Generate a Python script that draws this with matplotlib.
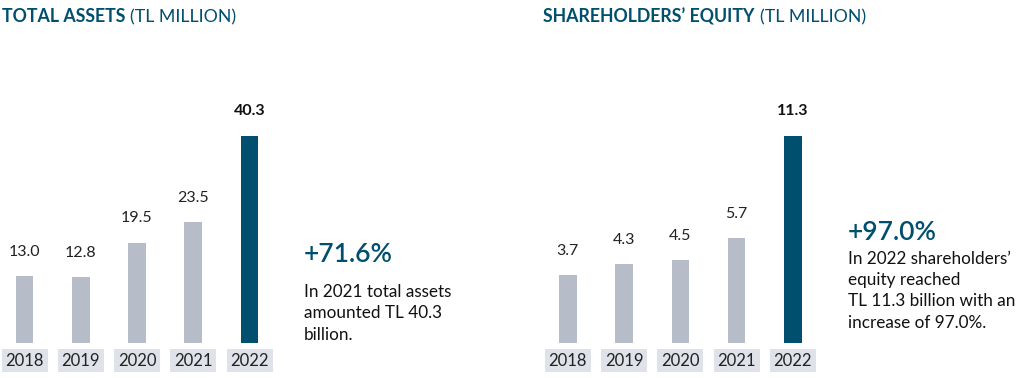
import matplotlib
matplotlib.use('Agg')
import matplotlib.pyplot as plt
from matplotlib.patches import Rectangle
from matplotlib import transforms

plt.rcParams['font.family'] = ['Lato', 'DejaVu Sans']

years = ['2018', '2019', '2020', '2021', '2022']
assets = [13.0, 12.8, 19.5, 23.5, 40.3]
equity = [3.7, 4.3, 4.5, 5.7, 11.3]

teal = '#004f6e'
grey_bar = '#b6bdc9'
box_col = '#dfe2e8'

W, H = 1031, 378
fig = plt.figure(figsize=(W / 100, H / 100), dpi=100)

def px(x, y):
    # pixel (from top-left) to figure fraction
    return x / W, 1 - y / H

def bar_panel(left_px, first_center, values, base_px=342.7, top_px=135.7):
    pitch = 56.25
    width_px = 281
    x0 = -(first_center - left_px) / pitch
    x1 = x0 + width_px / pitch
    ax = fig.add_axes([left_px / W, (H - base_px) / H, width_px / W, 250 / H])
    scale = (base_px - top_px) / max(values)  # px per unit
    ax.set_xlim(x0, x1)
    ax.set_ylim(0, 250 / scale)
    cols = [grey_bar] * (len(values) - 1) + [teal]
    ax.bar(range(len(values)), values, width=17.6 / pitch, color=cols)
    for i, v in enumerate(values):
        last = i == len(values) - 1
        ax.annotate(f'{v:.1f}', (i, v), xytext=(0, 17.5), textcoords='offset points',
                    ha='center', va='center', fontsize=11.5,
                    color='#111111' if last else '#222222',
                    fontweight='bold' if last else 'normal')
    tr = transforms.blended_transform_factory(ax.transData, fig.transFigure)
    bw = 46 / pitch
    for i, y in enumerate(years):
        ax.add_patch(Rectangle((i - bw / 2, (H - 372) / H), bw, 23 / H,
                               transform=tr, facecolor=box_col, edgecolor='none',
                               clip_on=False))
        ax.text(i, (H - 360.5) / H, y, transform=tr, ha='center', va='center',
                fontsize=12, color='#222222')
    ax.axis('off')
    return ax

bar_panel(0, 24.5, assets)
bar_panel(540, 567.8, equity)

# titles: bold part, then the unit right after it
def title(x, y, bold, rest):
    t = fig.text(*px(x, y), bold, fontsize=12.8, fontweight='bold', color=teal, va='center')
    fig.canvas.draw()
    bb = t.get_window_extent()
    fig.text((bb.x1 + 5) / W, 1 - y / H, rest, fontsize=12.8, color=teal, va='center')

title(2, 17, 'TOTAL ASSETS', '(TL MILLION)')
title(543, 17, 'SHAREHOLDERS’ EQUITY', '(TL MILLION)')

# callouts
fig.text(*px(304, 254), '+71.6%', fontsize=19, fontweight='semibold', color=teal, va='center')
fig.text(*px(304, 284), 'In 2021 total assets\namounted TL 40.3\nbillion.',
         fontsize=12.3, color='#111111', va='top', linespacing=1.42)
fig.text(*px(848, 233), '+97.0%', fontsize=19, fontweight='semibold', color=teal, va='center')
fig.text(*px(848, 250.5), 'In 2022 shareholders’\nequity reached\nTL 11.3 billion with an\nincrease of 97.0%.',
         fontsize=12.3, color='#111111', va='top', linespacing=1.42)

fig.savefig('out.png', dpi=100)
